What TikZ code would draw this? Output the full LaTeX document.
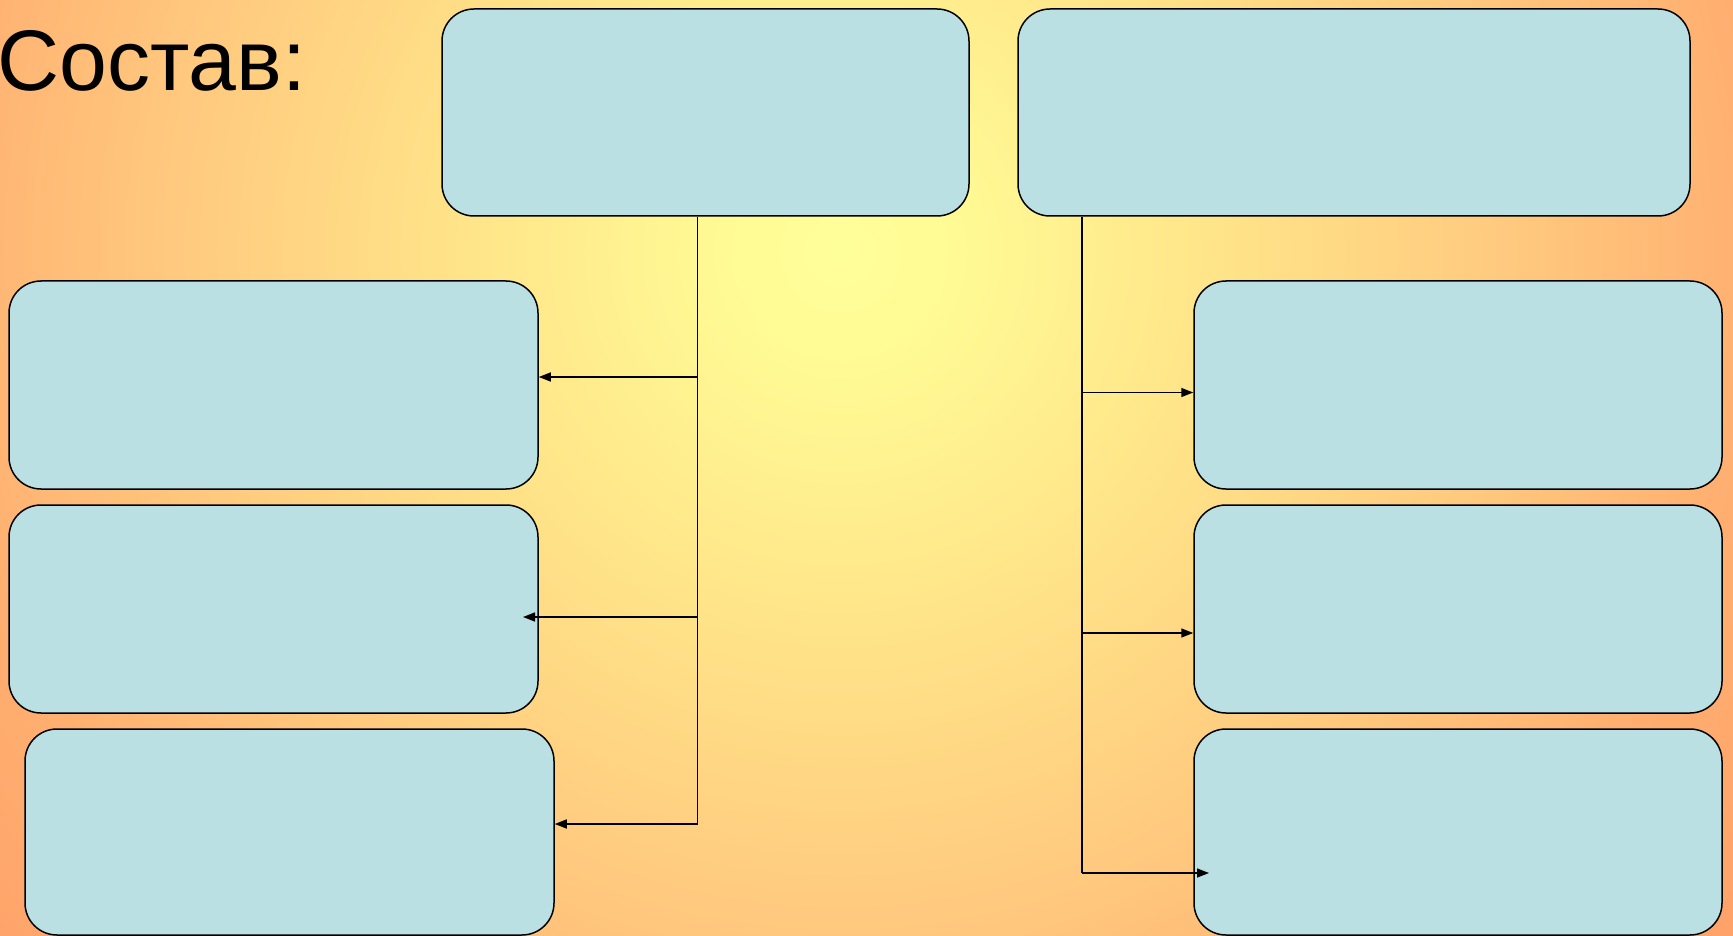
\documentclass[tikz,border=0pt]{standalone}
\usepackage{fontspec}
\setmainfont{Liberation Sans}
\usetikzlibrary{arrows.meta}
\definecolor{boxfill}{HTML}{BBE0E3}
\pgfdeclareradialshading{bgshade}{\pgfpoint{0bp}{0bp}}{%
  color(0bp)=(rgb,255:red,255;green,255;blue,153);
  color(120bp)=(rgb,255:red,255;green,250;blue,148);
  color(400bp)=(rgb,255:red,255;green,226;blue,136);
  color(680bp)=(rgb,255:red,255;green,200;blue,126);
  color(920bp)=(rgb,255:red,255;green,174;blue,112);
  color(1150bp)=(rgb,255:red,255;green,160;blue,104)}
\tikzset{
  blk/.style={draw=black, line width=1.5pt, fill=boxfill, rounded corners=32pt,
    inner sep=0pt, minimum height=207pt},
  conn/.style={line width=1.5pt, draw=black},
  arr/.style={conn, -{Triangle[length=12pt,width=9pt]}}
}
\begin{document}
\begin{tikzpicture}[x=1pt,y=-1pt]
\useasboundingbox (0,0) rectangle (1733,936);
\begin{scope}
  \clip (0,0) rectangle (1733,936);
  \begin{scope}[shift={(840,252)}]
    \pgftext{\pgfuseshading{bgshade}}
  \end{scope}
\end{scope}
\node[anchor=base west, inner sep=0pt, font=\fontsize{86}{86}\selectfont] (title) at (-3,91) {Состав:};
% boxes
\node[blk, minimum width=527pt] (T1) at (705.5,112.5) {};
\node[blk, minimum width=672pt] (T2) at (1354,112.5) {};
\node[blk, minimum width=529pt, minimum height=208pt] (L1) at (273.5,385) {};
\node[blk, minimum width=529pt, minimum height=208pt] (L2) at (273.5,609) {};
\node[blk, minimum width=529pt, minimum height=206pt] (L3) at (289.5,832) {};
\node[blk, minimum width=528pt, minimum height=208pt] (R1) at (1458,385) {};
\node[blk, minimum width=528pt, minimum height=208pt] (R2) at (1458,609) {};
\node[blk, minimum width=528pt, minimum height=206pt] (R3) at (1458,832) {};
% trunk coordinates
\coordinate (lb) at (697.5,824);
\coordinate (rb) at (1082,873);
\coordinate (l1) at (697.5,377);
\coordinate (l2) at (697.5,617);
\coordinate (r1) at (1082,392.5);
\coordinate (r2) at (1082,633);
\coordinate (l2tip) at (523,617);
\coordinate (r3tip) at (1209,873);
\draw[conn] (T1.south -| lb) -- (lb);
\draw[conn] (T2.south -| rb) -- (rb);
\draw[arr] (l1) -- (L1.east |- l1);
\draw[arr] (l2) -- (l2tip);
\draw[arr] (lb) -- (L3.east |- lb);
\draw[arr] (r1) -- (R1.west |- r1);
\draw[arr] (r2) -- (R2.west |- r2);
\draw[arr] (rb) -- (r3tip);
\end{tikzpicture}
\end{document}
